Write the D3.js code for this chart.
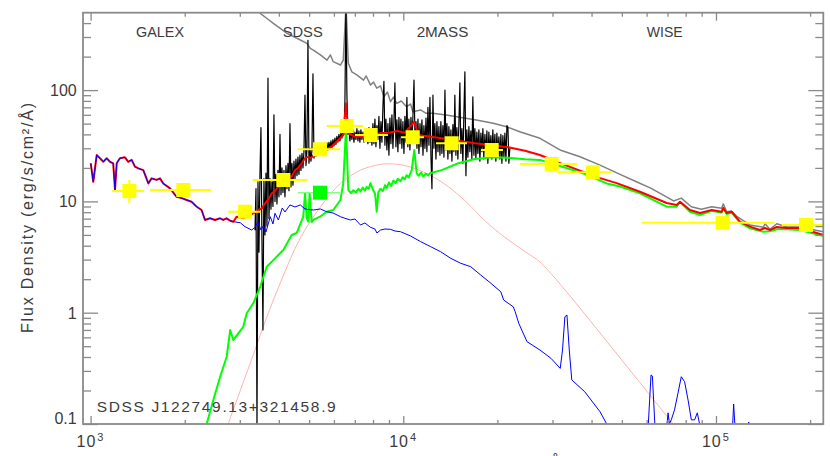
<!DOCTYPE html>
<html><head><meta charset="utf-8">
<script src="https://cdn.jsdelivr.net/npm/d3@7"></script>
<style>
body{margin:0;background:#fff}
svg{display:block}
text{font-family:"Liberation Sans",Arial,sans-serif;fill:#3c3c3c}
</style>
</head><body>
<svg id="c" width="830" height="456"></svg>
<script>
// ---------------- data (rest-frame wavelength in Å, flux density) ----------------
const uvWave = [1001,1020,1046,1072,1098,1126,1153,1181,1197,1212,1241,1288,1320,1353,1387,1421,1474,1530,1567,1626,1667,1707,1795,1884,1955,2028,2103,2185,2264,2322,2410,2500,2596,2656,2720,2795,2860];
const uvFlux = [22.0,15.0,26.1,24.4,22.7,24.4,22.7,22.0,12.7,22.0,24.4,24.9,22.7,23.6,20.5,19.8,19.1,14.5,16.1,15.6,16.1,14.5,13.1,11.0,10.7,10.3,9.94,8.96,8.37,6.81,7.05,6.81,7.05,6.81,7.05,6.71,6.57];

const totalWave = [2932,3078,3235,3331,3439,3533,3613,3693,3795,3888,3985,4124,4288,4406,4506,4607,4732,4851,4970,5069,5221,5415,5617,5902,6197,6428,6559,6671,7007,7542,7924,8426,9067,9546,10124,10844,11168,13270,16960,21670,24500,27360,31710,36740,42570,48140,57140,69550,74860,76720,82580,88900,96880,104300,105500,108200,112200,119300,128500,138200,143500,148800,156400,168300,185800,195100,220500,231600];
const totalFlux = [7.29,7.05,7.55,7.87,8.37,8.72,9.61,10.3,11.8,12.4,13.6,14.3,15.6,16.9,19.1,19.95,22.0,24.5,25.1,24.5,27.0,27.8,29.0,31.0,35.6,39.5,76.1,40.9,38.1,38.1,39.5,40.9,41.6,42.9,41.4,52.0,39.5,36.9,33.3,30.6,28.5,26.1,22.1,18.9,16.2,14.6,12.2,9.67,9.29,9.94,8.37,7.87,8.37,8.08,8.72,7.87,8.08,6.57,5.93,5.53,5.77,5.53,5.89,5.77,5.80,5.53,4.99,4.89];

const agnWave = [3008,3118,3275,3355,3430,3506,3564,3638,3755,3830,3888,3985,4102,4184,4340,4504,4685,4848,5156,5431,5689,5958,6295,6507,6777,7004,7296,7539,7855,8115,8235,8457,8735,9105,9402,9803,10550,11360,12230,13170,14180,15260,16430,17690,19050,20510,20940,22480,22800,23400,24870,27360,29670,31760,32300,32870,33370,33950,34580,38040,42570,44720,45800,59290,60760,61980,62600,63750,64700,68850,70280,70960,71950,73700,75580,77460,79360,81430,83400,85460,87150,88620,89790,111000,113100,113900,114900,116000,125700,127300,129200,240000];
const agnFlux = [6.44,5.93,5.53,5.85,6.53,5.53,6.01,5.31,7.29,6.27,7.82,6.81,8.72,8.03,9.29,8.91,9.29,8.55,8.37,8.55,8.08,7.87,7.29,7.05,6.81,6.95,6.14,6.4,5.85,5.65,5.2,5.53,5.65,5.61,5.42,5.34,4.89,4.35,3.92,3.53,3.08,2.78,2.59,2.18,1.84,1.54,1.30,1.13,1.02,0.803,0.549,0.462,0.389,0.316,0.462,0.92,0.953,0.462,0.249,0.195,0.129,0.1,0.072,0.07,0.1,0.276,0.27,0.1,0.07,0.07,0.126,0.1,0.109,0.134,0.189,0.266,0.24,0.164,0.109,0.109,0.126,0.1,0.07,0.07,0.1,0.151,0.1,0.07,0.07,0.104,0.07,0.07];

const hostWave = [2322,2469,2596,2724,2795,2860,2967,3078,3157,3314,3487,3658,3841,4134,4397,4561,4788,4851,4911,4970,5016,5094,5156,5415,5689,5973,6295,6428,6559,6671,6800,6920,7050,7180,7296,7420,7540,7636,7750,7855,7990,8122,8222,8320,8457,8600,8750,8849,9000,9150,9290,9450,9600,9803,9950,10100,10250,10400,10640,10844,11040,11200,11400,11590,11800,12000,12170,13270,14990,16960,19180,21670,24500,27360,31710,37570,44720,49310,57140,69550,74860,76720,82580,88900,96880,104300,105500,108200,112200,119300,128500,141700,148800,156400,168300,185800,220500,231600];
const hostFlux = [0.088,0.164,0.266,0.402,0.699,0.568,0.653,0.748,0.988,1.215,1.71,2.59,2.97,3.66,4.99,5.20,7.29,11.9,7.09,6.57,11.9,6.53,6.81,7.29,8.08,8.37,10.3,14.5,45.6,12.7,11.9,12.6,12.0,13.0,12.3,13.3,12.5,13.5,13.0,14.6,12.8,11.8,8.08,12.1,13.0,12.4,14.0,13.2,14.8,13.8,15.4,14.6,16.0,15.2,16.5,15.8,17.2,16.4,19.1,29.0,17.9,17.0,18.2,16.7,17.8,17.2,17.9,19.1,22.0,24.0,24.9,24.7,23.9,23.6,20.8,17.9,14.5,13.6,11.8,8.96,8.96,9.88,8.08,7.55,8.25,7.92,8.72,7.7,7.92,6.44,5.73,5.34,5.4,5.61,5.61,5.53,4.89,4.8];

const grayWave = [3430,3487,3658,3841,4042,4245,4458,4685,4921,5044,5157,5431,5703,5847,5971,6295,6428,6559,6671,6843,7103,7460,7610,7855,8034,8224,8457,8667,8897,9105,9300,9530,9855,10240,10550,10730,11360,11840,12420,13710,15140,17120,19380,21400,23570,27360,31710,36740,42570,49740,55660,62070,73170,77460,83400,89790,96880,104300,105500,108200,112200,116800,128500,141700,143500,148800,156400,168300,185800,220500,231600];
const grayFlux = [547,490,442,398,359,324,302,282,263,237,229,207,186,207,180,168,186,582,174,146,137,123,134,111,118,104,109,87.3,96,78.7,86.5,76.1,79.8,71.0,75,64.0,66.3,61.9,61.9,59.8,56.9,53.9,50.3,46.9,42.3,36.9,29.0,25.2,21.2,17.3,15.0,13.1,10.1,10.7,8.96,8.49,8.96,8.67,9.5,8.08,8.2,7.29,6.14,5.85,6.3,5.61,6.3,5.93,5.85,5.34,5.25];

const bbWave = [2672,2757,3008,3355,3611,4042,4685,5431,6295,7296,8457,9290,10250,11840,13710,15870,18370,21270,24620,27360,34980,44730,57150,73030,83400];
const bbFlux = [0.072,0.1,0.198,0.462,0.825,1.85,4.69,8.91,14.5,19.1,21.5,21.7,20.8,17.9,14.0,9.94,6.57,4.69,3.51,2.85,1.30,0.553,0.235,0.1,0.065];

const sdssWave = [3355,3380,3405,3430,3455,3480,3506,3532,3558,3584,3611,3638,3665,3692,3719,3747,3774,3802,3830,3858,3887,3916,3945,3974,4003,4033,4063,4093,4123,4153,4184,4215,4246,4278,4309,4341,4373,4405,4438,4471,4504,4537,4571,4604,4638,4672,4707,4742,4777,4812,4848,4884,4920,4956,4993,5030,5067,5104,5142,5180,5218,5256,5295,5334,5374,5413,5453,5493,5534,5575,5616,5657,5699,5741,5784,5827,5870,5913,5957,6001,6045,6090,6135,6180,6226,6271,6318,6365,6412,6459,6507,6555,6603,6652,6701,6751,6801,6851,6901,6952,7004,7056,7108,7160,7213,7266,7320,7374,7429,7484,7539,7595,7651,7707,7764,7822,7879,7937,7996,8055,8115,8175,8235,8295,8357,8419,8481,8544,8607,8671,8735,8799,8864,8930,8996,9062,9129,9197,9265,9333,9402,9472,9542,9612,9683,9755,9827,9900,9973,10050,10120,10200,10270,10340,10420,10500,10580,10660,10740,10820,10900,10980,11060,11140,11220,11310,11390,11470,11560,11640,11730,11820,11900,11990,12080,12170,12260,12350,12440,12530,12620,12720,12810,12910,13000,13100,13190,13290,13390,13490,13590,13690,13790,13890,13990,14100,14200,14310,14410,14520,14620,14730,14840,14950,15060,15170,15280,15400,15510,15620,15740,15860,15970,16090,16210,16330,16450,16570,16690,16820,16940,17070,17190,17320,17450,17580,17710,17840,17970,18100,18240,18380,18510,18640,18780,18920,19060,19200,19340,19480,19630,19770,19920,20070,20220,20370,20520,20670,20820,20980,21130,21290,21450,21610,21760,21920];
const sdssFlux = [5.5,13,0.09,15,3.5,17,46,4.5,0.7,16,5,18,6,128,7,
16,8.5,15,9,60,10,17.5,9.5,19,11,40,11.5,20,12,19,11,21,13,22,12.5,50,13.5,
22,14,23,16,24,17,25,17.5,26,19,27,20,28,90,21,29,280,22,30,
23,29,140,24.5,30,25.5,31,26,31.5,27,32,26.5,32.5,27.5,33,28,33.5,29,34,30,35,30.5,36,31.5,37,32.5,38.5,34,40,35,41,37,44,40,80,600,90,40,45,
35,43,36,44,34,42,36,45,35,43,34,44,36,42,34,45,35,43,33,46,34,44,32,
50,33,55,31,48,36,58,30,52,34,70,120,32,55,29,50,26,56,33,60,30,52,116,31,54,28,57,33,
55,30,52,27,58,34,86,31,55,29,57,35,60,123,36,52,30,55,27,50,31,54,26,48,30,56,28,70,32,86,25,13,90,30,50,24,52,28,47,26,
52,27,48,25,100,29,50,24,47,27,44,23,49,28,90,26,46,24,50,116,27,45,22,60,146,17,44,25,47,28,43,24,87,26,45,
24,42,27,44,23,41,28,45,24,40,26,43,22,42,27,39,24,44,25,40,23,41,26,38,24,40,22,39,25,41,23,48,46,22,30];

const bands    = ["FUV","NUV","u","g","r","i","z","J","H","K","W1","W2","W3","W4"];
const photWave = [1330,1980,3118,4134,5415,6592,7865,10720,14280,19180,29830,40350,105000,194000];
const photFlux = [12.4,12.66,8.08,15.57,29.4,47.6,39.5,37.7,33.3,28.95,21.7,18.26,6.44,6.14];
const photLo   = [1171,1549,2750,3299,4596,5689,7006,9831,12723,17720,23620,31120,57850,162300];
const photHi   = [1482,2427,3506,4946,6276,7449,8933,11648,15983,20840,35940,46320,153600,231000];
const fuvErr   = [9.67,15.56];
const hostPhot = {wave:5415, flux:11.97, lo:4596, hi:6276};

const surveyNames = ["GALEX","SDSS","2MASS","WISE"];
const xMajorTicks = [1e3,1e4,1e5];
const xMinorTicks = [2e3,3e3,4e3,5e3,6e3,7e3,8e3,9e3,2e4,3e4,4e4,5e4,6e4,7e4,8e4,9e4,2e5];
const yMajorTicks = [0.1,1,10,100];
const yMajorLabels = ["0.1","1","10","100"];
const yMinorTicks = [0.2,0.3,0.4,0.5,0.6,0.7,0.8,0.9,2,3,4,5,6,7,8,9,20,30,40,50,60,70,80,90,200,300,400];

// ---------------- drawing ----------------
const W=830,H=456, L=83, R=823.3, T=12.7, B=424;
const x=d3.scaleLog().domain([945.6,220400]).range([L,R]);
const y=d3.scaleLog().domain([0.1,496]).range([B,T]);
const svg=d3.select("#c");
svg.append("rect").attr("width",W).attr("height",H).attr("fill","#fff");
svg.append("defs").append("clipPath").attr("id","clip")
  .append("rect").attr("x",L).attr("y",T).attr("width",R-L).attr("height",B-T);
const plot=svg.append("g").attr("clip-path","url(#clip)");
const zip=(a,b)=>a.map((v,i)=>[v,b[i]]);
const line=d3.line().x(d=>x(d[0])).y(d=>y(d[1]));
const smooth=d3.line().x(d=>x(d[0])).y(d=>y(d[1])).curve(d3.curveCatmullRom);

function path(data,color,w,gen){
  plot.append("path").datum(data).attr("d",(gen||line)).attr("fill","none")
    .attr("stroke",color).attr("stroke-width",w).attr("stroke-linejoin","round");
}
path(zip(bbWave,bbFlux),"#ffb3b3",1,smooth);
path(zip(grayWave,grayFlux),"#808080",1.5);
path(zip(sdssWave,sdssFlux),"#000",1.2);
path(zip(hostWave,hostFlux),"#00ff00",2);
path(zip(uvWave.concat(totalWave),uvFlux.concat(totalFlux)),"#ff0000",2);
path(zip(uvWave.concat(agnWave),uvFlux.concat(agnFlux)),"#0000ff",1);

// error bars & photometry
const ph=plot.append("g");
photWave.forEach((w,i)=>{
  ph.append("line").attr("x1",x(photLo[i])).attr("x2",x(photHi[i]))
    .attr("y1",y(photFlux[i])).attr("y2",y(photFlux[i]))
    .attr("stroke","#ffff00").attr("stroke-width",2);
});
ph.append("line").attr("x1",x(photWave[0])).attr("x2",x(photWave[0]))
  .attr("y1",y(fuvErr[0])).attr("y2",y(fuvErr[1])).attr("stroke","#ffff00").attr("stroke-width",2);
ph.append("line").attr("x1",x(hostPhot.lo)).attr("x2",x(hostPhot.hi))
  .attr("y1",y(hostPhot.flux)).attr("y2",y(hostPhot.flux))
  .attr("stroke","#80ff80").attr("stroke-width",1.2);
ph.append("rect").attr("x",x(hostPhot.wave)-7).attr("y",y(hostPhot.flux)-7)
  .attr("width",14).attr("height",14).attr("fill","#00ff00");
photWave.forEach((w,i)=>{
  ph.append("rect").attr("x",x(w)-7).attr("y",y(photFlux[i])-7)
    .attr("width",14).attr("height",14).attr("fill","#ffff00");
});

// axes
const ac="#8a8a8a";
function ax(gen,tr,vals,size){
  const g=svg.append("g").attr("transform",tr)
    .call(gen.tickValues(vals).tickSize(size).tickFormat(""));
  g.select(".domain").remove();
  g.selectAll("line").attr("stroke",ac).attr("stroke-width",1.3);
}
ax(d3.axisBottom(x),`translate(0,${B})`,xMajorTicks,-8);
ax(d3.axisBottom(x),`translate(0,${B})`,xMinorTicks,-4);
ax(d3.axisTop(x),`translate(0,${T})`,xMajorTicks,-8);
ax(d3.axisTop(x),`translate(0,${T})`,xMinorTicks,-4);
ax(d3.axisLeft(y),`translate(${L},0)`,yMajorTicks,-15);
ax(d3.axisLeft(y),`translate(${L},0)`,yMinorTicks,-8);
ax(d3.axisRight(y),`translate(${R},0)`,yMajorTicks,-15);
ax(d3.axisRight(y),`translate(${R},0)`,yMinorTicks,-8);
svg.append("rect").attr("x",L).attr("y",T).attr("width",R-L).attr("height",B-T)
  .attr("fill","none").attr("stroke",ac).attr("stroke-width",1.8);

// tick labels
yMajorTicks.forEach((v,i)=>{
  svg.append("text").attr("x",76.7).attr("y",i===0?424:y(v)+6)
    .attr("text-anchor","end").attr("font-size",16).text(yMajorLabels[i]);
});
xMajorTicks.forEach(v=>{
  const px=x(v);
  svg.append("text").attr("x",px+5.7).attr("y",446.7).attr("text-anchor","end")
    .attr("font-size",16).attr("letter-spacing",1).text("10");
  svg.append("text").attr("x",px+6.7).attr("y",441).attr("font-size",11)
    .text(String(Math.round(Math.log10(v))));
});

// survey labels
const survW=[48,40,51.7,36];
const survX=[160,302.7,442.5,664.7];
surveyNames.forEach((s,i)=>{
  svg.append("text").attr("x",survX[i]).attr("y",37).attr("text-anchor","middle")
    .attr("font-size",15).attr("textLength",survW[i]).attr("lengthAdjust","spacingAndGlyphs").text(s);
});
svg.append("text").attr("x",96.7).attr("y",411.7).attr("font-size",15.5)
  .attr("textLength",239).attr("lengthAdjust","spacing").text("SDSS J122749.13+321458.9");

// axis titles
svg.append("text").attr("transform","translate(33,218) rotate(-90)").attr("text-anchor","middle")
  .attr("font-size",16).attr("textLength",230).attr("lengthAdjust","spacing")
  .text("Flux Density (erg/s/cm\u00B2/\u00C5)");
svg.append("text").attr("x",566).attr("y",468).attr("text-anchor","end")
  .attr("font-size",16).text("Wavelength (\u00C5)");
</script>
</body></html>
